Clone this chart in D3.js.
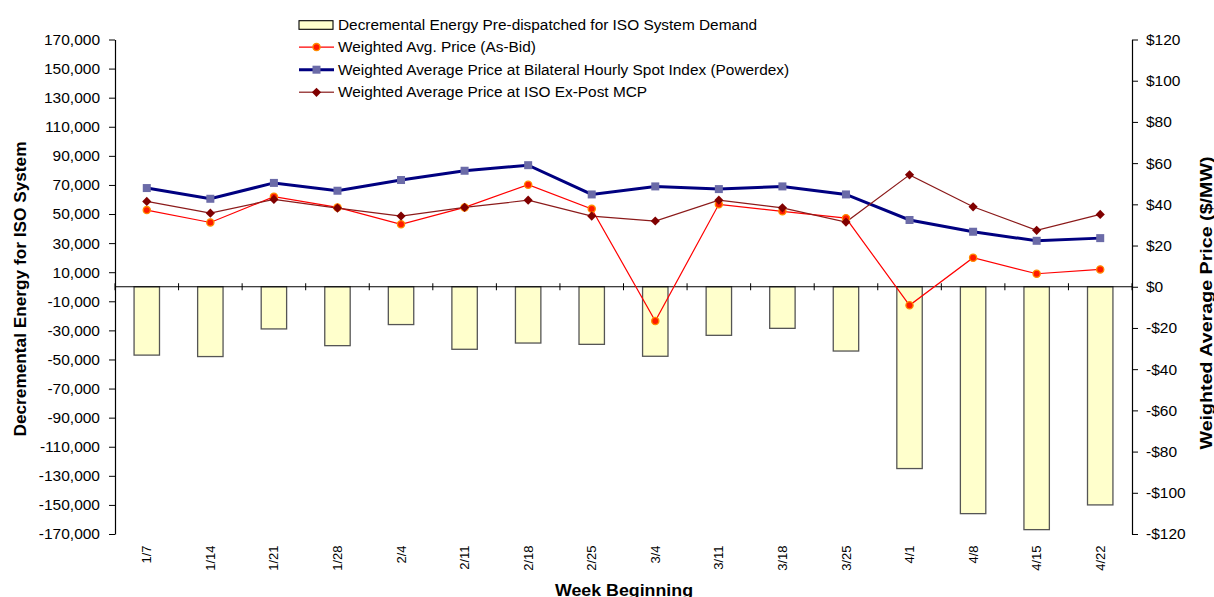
<!DOCTYPE html>
<html>
<head>
<meta charset="utf-8">
<script src="https://cdn.jsdelivr.net/npm/d3@7"></script>
<style>
  html, body { margin: 0; padding: 0; background: #fff; }
  svg { display: block; font-family: "Liberation Sans", Arial, sans-serif; }
</style>
</head>
<body>
<svg id="chart" width="1214" height="597"></svg>
<script>
// ---------- data ----------
const weeks = ["1/7","1/14","1/21","1/28","2/4","2/11","2/18","2/25","3/4","3/11","3/18","3/25","4/1","4/8","4/15","4/22"];
const decEnergy = [-47000,-48000,-29000,-40500,-26000,-43000,-38700,-39600,-47800,-33400,-28600,-44200,-125000,-156000,-167000,-150000];
const asBidPrice = [37.2,31.2,43.7,38.5,30.3,38.5,49.5,37.8,-16.6,40.0,36.6,33.3,-9.0,14.1,6.3,8.4];
const powerdexPrice = [47.9,42.7,50.4,46.6,51.8,56.3,59.0,44.8,48.7,47.4,48.7,44.8,32.4,26.7,22.3,23.6];
const exPostPrice = [41.4,35.7,42.4,38.2,34.3,38.5,42.0,34.3,31.9,42.0,38.3,31.4,54.3,38.8,27.4,35.1];
const leftTicks = d3.range(-170000, 170001, 20000);
const rightTicks = d3.range(-120, 121, 20);
const legendLabels = [
  "Decremental Energy Pre-dispatched for ISO System Demand",
  "Weighted Avg. Price (As-Bid)",
  "Weighted Average Price at Bilateral Hourly Spot Index (Powerdex)",
  "Weighted Average Price at ISO Ex-Post MCP"
];

// ---------- layout ----------
const svg = d3.select("#chart");
const X0 = 115, X1 = 1132, YT = 39.5, YB = 534;
const x = d3.scaleBand().domain(weeks).range([X0, X1]).paddingInner(0).paddingOuter(0);
const yL = d3.scaleLinear().domain([-170000, 170000]).range([YB, YT]);
const yR = d3.scaleLinear().domain([-120, 120]).range([YB, YT]);
const cx = d => x(d) + x.bandwidth() / 2;
const fontTick = "15.5px";

const fmtL = d => (d < 0 ? "-" : "") + d3.format(",")(Math.abs(d));
const fmtR = d => (d < 0 ? "-" : "") + "$" + Math.abs(d);

// bars
const bw = x.bandwidth() * 0.4;
svg.append("g").selectAll("rect").data(weeks).join("rect")
  .attr("x", (d) => cx(d) - bw / 2)
  .attr("y", yL(0))
  .attr("width", bw)
  .attr("height", (d, i) => yL(decEnergy[i]) - yL(0))
  .attr("fill", "#ffffcc")
  .attr("stroke", "#555")
  .attr("stroke-width", 1.3);

// left axis
const gL = svg.append("g").attr("transform", `translate(${X0},0)`)
  .call(d3.axisLeft(yL).tickValues(leftTicks).tickFormat(fmtL).tickSize(6).tickSizeOuter(0).tickPadding(9));
// right axis
const gR = svg.append("g").attr("transform", `translate(${X1},0)`)
  .call(d3.axisRight(yR).tickValues(rightTicks).tickFormat(fmtR).tickSize(6).tickSizeOuter(0).tickPadding(8));
[gL, gR].forEach(g => {
  g.select(".domain").attr("stroke", "#000").attr("stroke-width", 1.2);
  g.selectAll(".tick line").attr("stroke", "#000").attr("stroke-width", 1);
  g.selectAll(".tick text").attr("font-size", fontTick).attr("fill", "#000")
    .attr("font-family", "Liberation Sans, Arial, sans-serif");
});

// zero line with category ticks
const y0 = yL(0);
svg.append("line").attr("x1", X0).attr("x2", X1).attr("y1", y0).attr("y2", y0)
  .attr("stroke", "#000").attr("stroke-width", 1.2);
const bounds = d3.range(weeks.length + 1).map(i => X0 + i * x.step());
svg.append("g").selectAll("line").data(bounds).join("line")
  .attr("x1", d => d).attr("x2", d => d)
  .attr("y1", y0 - 3.5).attr("y2", y0 + 3.5)
  .attr("stroke", "#000").attr("stroke-width", 1);

// category labels
svg.append("g").selectAll("text").data(weeks).join("text")
  .attr("transform", d => `translate(${cx(d)},545.5) rotate(-90)`)
  .attr("text-anchor", "end").attr("dy", "0.35em")
  .attr("font-size", "13px").text(d => d);

// lines
const lineGen = arr => d3.line().x((d, i) => cx(weeks[i])).y(d => yR(d))(arr);
const diamond = (s) => `M0,${-s}L${s},0L0,${s}L${-s},0Z`;

// As-Bid
svg.append("path").attr("d", lineGen(asBidPrice)).attr("fill", "none")
  .attr("stroke", "#ff0000").attr("stroke-width", 1.2);
// Powerdex
svg.append("path").attr("d", lineGen(powerdexPrice)).attr("fill", "none")
  .attr("stroke", "#000080").attr("stroke-width", 3);
// Ex-Post
svg.append("path").attr("d", lineGen(exPostPrice)).attr("fill", "none")
  .attr("stroke", "#8b1a1a").attr("stroke-width", 1.2);

svg.append("g").selectAll("circle").data(asBidPrice).join("circle")
  .attr("cx", (d, i) => cx(weeks[i])).attr("cy", d => yR(d)).attr("r", 3.6)
  .attr("fill", "#ff1a00").attr("stroke", "#ff8c00").attr("stroke-width", 1.3);
svg.append("g").selectAll("rect").data(powerdexPrice).join("rect")
  .attr("x", (d, i) => cx(weeks[i]) - 4).attr("y", d => yR(d) - 4)
  .attr("width", 8).attr("height", 8).attr("fill", "#6b6ba8");
svg.append("g").selectAll("path").data(exPostPrice).join("path")
  .attr("transform", (d, i) => `translate(${cx(weeks[i])},${yR(d)})`)
  .attr("d", diamond(4.6)).attr("fill", "#800000");

// legend
const lg = svg.append("g");
const lgX = 299, lgW = 35, base0 = 29.5, step = 22.6;
legendLabels.forEach((t, i) => {
  const b = base0 + i * step;
  lg.append("text").attr("x", 338).attr("y", b).attr("font-size", "15.4px").text(t);
  const my = b - 5;
  if (i === 0) {
    lg.append("rect").attr("x", lgX).attr("y", b - 8.8).attr("width", lgW - 1).attr("height", 8.6)
      .attr("fill", "#ffffcc").attr("stroke", "#000").attr("stroke-width", 1.1);
  } else if (i === 1) {
    lg.append("line").attr("x1", lgX).attr("x2", lgX + lgW).attr("y1", my).attr("y2", my)
      .attr("stroke", "#ff0000").attr("stroke-width", 1.2);
    lg.append("circle").attr("cx", lgX + lgW / 2).attr("cy", my).attr("r", 3.6)
      .attr("fill", "#ff1a00").attr("stroke", "#ff8c00").attr("stroke-width", 1.3);
  } else if (i === 2) {
    lg.append("line").attr("x1", lgX).attr("x2", lgX + lgW).attr("y1", my).attr("y2", my)
      .attr("stroke", "#000080").attr("stroke-width", 3);
    lg.append("rect").attr("x", lgX + lgW / 2 - 4).attr("y", my - 4).attr("width", 8).attr("height", 8)
      .attr("fill", "#6b6ba8");
  } else {
    lg.append("line").attr("x1", lgX).attr("x2", lgX + lgW).attr("y1", my).attr("y2", my)
      .attr("stroke", "#a04848").attr("stroke-width", 1.4);
    lg.append("path").attr("transform", `translate(${lgX + lgW / 2},${my})`)
      .attr("d", diamond(4.6)).attr("fill", "#800000");
  }
});

// axis titles
svg.append("text").attr("transform", "translate(20,289) rotate(-90)")
  .attr("text-anchor", "middle").attr("dy", "0.35em")
  .attr("font-size", "16.5px").attr("font-weight", "bold")
  .attr("textLength", 295).attr("lengthAdjust", "spacingAndGlyphs")
  .text("Decremental Energy for ISO System");
svg.append("text").attr("transform", "translate(1206,303) rotate(-90)")
  .attr("text-anchor", "middle").attr("dy", "0.35em")
  .attr("font-size", "16.5px").attr("font-weight", "bold")
  .attr("textLength", 293).attr("lengthAdjust", "spacingAndGlyphs")
  .text("Weighted Average Price ($/MW)");
svg.append("text").attr("x", 624).attr("y", 595.5)
  .attr("text-anchor", "middle")
  .attr("font-size", "16px").attr("font-weight", "bold")
  .attr("textLength", 138).attr("lengthAdjust", "spacingAndGlyphs")
  .text("Week Beginning");
</script>
</body>
</html>
